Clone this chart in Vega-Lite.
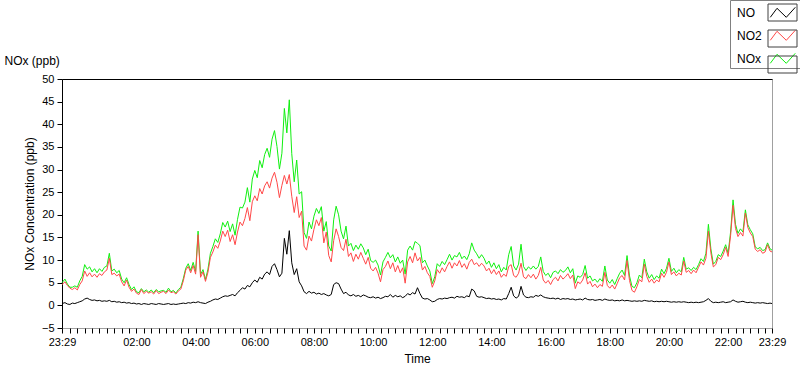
{
 "$schema": "https://vega.github.io/schema/vega-lite/v6.json",
 "width": 710, "height": 249,
 "autosize": "none",
 "padding": {"left": 62, "top": 79, "right": 28, "bottom": 41},
 "background": "white",
 "config": {
  "font": "Liberation Sans",
  "view": {"stroke": "#a0a0a0"},
  "axis": {"grid": false, "labelColor": "#000", "titleColor": "#000", "tickColor": "#000", "domainColor": "#000", "labelFontSize": 11, "titleFontSize": 12, "titleFontWeight": "normal"}
 },
 "data": {"format": {"parse": {"t": "date:'%d %H:%M'"}}, "values": [
{"t":"1 23:29","NO":0.4,"NO2":4.6,"NOx":5.0},{"t":"1 23:35","NO":0.6,"NO2":5.2,"NOx":5.8},{"t":"1 23:40","NO":0.3,"NO2":4.4,"NOx":4.7},{"t":"1 23:45","NO":0.2,"NO2":3.8,"NOx":4.0},{"t":"1 23:50","NO":0.5,"NO2":3.5,"NOx":4.0},{"t":"1 23:55","NO":0.4,"NO2":3.9,"NOx":4.3},
{"t":"2 00:00","NO":0.6,"NO2":3.4,"NOx":4.0},{"t":"2 00:05","NO":0.8,"NO2":4.6,"NOx":5.4},{"t":"2 00:10","NO":1.0,"NO2":5.4,"NOx":6.4},{"t":"2 00:15","NO":1.4,"NO2":7.6,"NOx":9.0},{"t":"2 00:20","NO":1.6,"NO2":6.4,"NOx":8.0},{"t":"2 00:25","NO":1.3,"NO2":7.2,"NOx":8.5},{"t":"2 00:30","NO":1.1,"NO2":6.3,"NOx":7.4},{"t":"2 00:35","NO":1.2,"NO2":6.9,"NOx":8.1},{"t":"2 00:40","NO":1.0,"NO2":6.2,"NOx":7.2},{"t":"2 00:45","NO":1.1,"NO2":7.0,"NOx":8.1},{"t":"2 00:50","NO":0.9,"NO2":6.6,"NOx":7.5},{"t":"2 00:55","NO":1.0,"NO2":7.4,"NOx":8.4},
{"t":"2 01:00","NO":0.9,"NO2":7.8,"NOx":8.7},{"t":"2 01:05","NO":1.1,"NO2":10.4,"NOx":11.5},{"t":"2 01:10","NO":0.8,"NO2":6.8,"NOx":7.6},{"t":"2 01:15","NO":0.9,"NO2":7.1,"NOx":8.0},{"t":"2 01:20","NO":0.7,"NO2":6.5,"NOx":7.2},{"t":"2 01:25","NO":0.8,"NO2":6.9,"NOx":7.7},{"t":"2 01:30","NO":0.6,"NO2":5.2,"NOx":5.8},{"t":"2 01:35","NO":0.7,"NO2":4.3,"NOx":5.0},{"t":"2 01:40","NO":0.5,"NO2":5.6,"NOx":6.1},{"t":"2 01:45","NO":0.6,"NO2":4.0,"NOx":4.6},{"t":"2 01:50","NO":0.4,"NO2":3.1,"NOx":3.5},{"t":"2 01:55","NO":0.5,"NO2":3.6,"NOx":4.1},
{"t":"2 02:00","NO":0.3,"NO2":2.7,"NOx":3.0},{"t":"2 02:05","NO":0.4,"NO2":2.4,"NOx":2.8},{"t":"2 02:10","NO":0.2,"NO2":3.5,"NOx":3.7},{"t":"2 02:15","NO":0.4,"NO2":2.6,"NOx":3.0},{"t":"2 02:20","NO":0.3,"NO2":3.1,"NOx":3.4},{"t":"2 02:25","NO":0.2,"NO2":2.7,"NOx":2.9},{"t":"2 02:30","NO":0.4,"NO2":3.0,"NOx":3.4},{"t":"2 02:35","NO":0.3,"NO2":2.5,"NOx":2.8},{"t":"2 02:40","NO":0.2,"NO2":3.3,"NOx":3.5},{"t":"2 02:45","NO":0.4,"NO2":2.6,"NOx":3.0},{"t":"2 02:50","NO":0.3,"NO2":2.9,"NOx":3.2},{"t":"2 02:55","NO":0.2,"NO2":3.1,"NOx":3.3},
{"t":"2 03:00","NO":0.3,"NO2":2.6,"NOx":2.9},{"t":"2 03:05","NO":0.4,"NO2":3.4,"NOx":3.8},{"t":"2 03:10","NO":0.2,"NO2":2.8,"NOx":3.0},{"t":"2 03:15","NO":0.3,"NO2":3.0,"NOx":3.3},{"t":"2 03:20","NO":0.2,"NO2":2.5,"NOx":2.7},{"t":"2 03:25","NO":0.3,"NO2":3.2,"NOx":3.5},{"t":"2 03:30","NO":0.4,"NO2":3.6,"NOx":4.0},{"t":"2 03:35","NO":0.5,"NO2":5.4,"NOx":5.9},{"t":"2 03:40","NO":0.4,"NO2":7.8,"NOx":8.2},{"t":"2 03:45","NO":0.6,"NO2":8.6,"NOx":9.2},{"t":"2 03:50","NO":0.5,"NO2":7.2,"NOx":7.7},{"t":"2 03:55","NO":0.7,"NO2":8.8,"NOx":9.5},
{"t":"2 04:00","NO":0.6,"NO2":6.9,"NOx":7.5},{"t":"2 04:05","NO":0.8,"NO2":15.6,"NOx":16.4},{"t":"2 04:10","NO":0.6,"NO2":6.2,"NOx":6.8},{"t":"2 04:15","NO":0.5,"NO2":7.4,"NOx":7.9},{"t":"2 04:20","NO":0.4,"NO2":5.3,"NOx":5.7},{"t":"2 04:25","NO":0.7,"NO2":7.3,"NOx":8.0},{"t":"2 04:30","NO":0.9,"NO2":10.6,"NOx":11.5},{"t":"2 04:35","NO":1.2,"NO2":11.8,"NOx":13.0},{"t":"2 04:40","NO":1.4,"NO2":13.3,"NOx":14.7},{"t":"2 04:45","NO":1.3,"NO2":12.6,"NOx":13.9},{"t":"2 04:50","NO":1.6,"NO2":14.2,"NOx":15.8},{"t":"2 04:55","NO":1.9,"NO2":16.4,"NOx":18.3},
{"t":"2 05:00","NO":2.1,"NO2":15.2,"NOx":17.3},{"t":"2 05:05","NO":2.0,"NO2":16.6,"NOx":18.6},{"t":"2 05:10","NO":2.2,"NO2":14.1,"NOx":16.3},{"t":"2 05:15","NO":2.4,"NO2":15.6,"NOx":18.0},{"t":"2 05:20","NO":2.1,"NO2":13.4,"NOx":15.5},{"t":"2 05:25","NO":2.8,"NO2":16.2,"NOx":19.0},{"t":"2 05:30","NO":3.3,"NO2":18.4,"NOx":21.7},{"t":"2 05:35","NO":3.9,"NO2":17.6,"NOx":21.5},{"t":"2 05:40","NO":3.6,"NO2":19.2,"NOx":22.8},{"t":"2 05:45","NO":4.4,"NO2":21.6,"NOx":26.0},{"t":"2 05:50","NO":4.1,"NO2":18.7,"NOx":22.8},{"t":"2 05:55","NO":5.0,"NO2":22.9,"NOx":27.9},
{"t":"2 06:00","NO":5.6,"NO2":24.2,"NOx":29.8},{"t":"2 06:05","NO":5.1,"NO2":23.1,"NOx":28.2},{"t":"2 06:10","NO":6.2,"NO2":25.8,"NOx":32.0},{"t":"2 06:15","NO":5.8,"NO2":24.6,"NOx":30.4},{"t":"2 06:20","NO":6.9,"NO2":26.4,"NOx":33.3},{"t":"2 06:25","NO":7.4,"NO2":27.3,"NOx":34.7},{"t":"2 06:30","NO":6.8,"NO2":25.9,"NOx":32.7},{"t":"2 06:35","NO":8.6,"NO2":28.1,"NOx":36.7},{"t":"2 06:40","NO":9.2,"NO2":29.4,"NOx":38.6},{"t":"2 06:45","NO":7.9,"NO2":27.2,"NOx":35.1},{"t":"2 06:50","NO":6.3,"NO2":23.8,"NOx":30.1},{"t":"2 06:55","NO":7.1,"NO2":26.5,"NOx":33.6},
{"t":"2 07:00","NO":14.8,"NO2":28.7,"NOx":43.5},{"t":"2 07:05","NO":11.3,"NO2":26.8,"NOx":38.1},{"t":"2 07:10","NO":16.5,"NO2":28.9,"NOx":45.4},{"t":"2 07:15","NO":9.4,"NO2":24.1,"NOx":33.5},{"t":"2 07:20","NO":6.8,"NO2":20.5,"NOx":27.3},{"t":"2 07:25","NO":8.1,"NO2":24.0,"NOx":32.1},{"t":"2 07:30","NO":5.2,"NO2":19.4,"NOx":24.6},{"t":"2 07:35","NO":4.3,"NO2":20.8,"NOx":25.1},{"t":"2 07:40","NO":3.0,"NO2":13.1,"NOx":16.1},{"t":"2 07:45","NO":2.6,"NO2":12.2,"NOx":14.8},{"t":"2 07:50","NO":3.1,"NO2":15.3,"NOx":18.4},{"t":"2 07:55","NO":2.7,"NO2":14.2,"NOx":16.9},
{"t":"2 08:00","NO":2.9,"NO2":16.8,"NOx":19.7},{"t":"2 08:05","NO":2.5,"NO2":18.9,"NOx":21.4},{"t":"2 08:10","NO":2.7,"NO2":17.6,"NOx":20.3},{"t":"2 08:15","NO":2.4,"NO2":19.4,"NOx":21.8},{"t":"2 08:20","NO":2.6,"NO2":13.8,"NOx":16.4},{"t":"2 08:25","NO":2.3,"NO2":16.2,"NOx":18.5},{"t":"2 08:30","NO":2.1,"NO2":11.0,"NOx":13.1},{"t":"2 08:35","NO":2.4,"NO2":9.6,"NOx":12.0},{"t":"2 08:40","NO":4.6,"NO2":14.3,"NOx":18.9},{"t":"2 08:45","NO":5.0,"NO2":16.9,"NOx":21.9},{"t":"2 08:50","NO":4.8,"NO2":15.2,"NOx":20.0},{"t":"2 08:55","NO":3.6,"NO2":12.8,"NOx":16.4},
{"t":"2 09:00","NO":2.6,"NO2":12.1,"NOx":14.7},{"t":"2 09:05","NO":2.9,"NO2":14.6,"NOx":17.5},{"t":"2 09:10","NO":2.3,"NO2":10.8,"NOx":13.1},{"t":"2 09:15","NO":2.1,"NO2":11.6,"NOx":13.7},{"t":"2 09:20","NO":2.4,"NO2":9.7,"NOx":12.1},{"t":"2 09:25","NO":2.0,"NO2":11.3,"NOx":13.3},{"t":"2 09:30","NO":2.2,"NO2":10.2,"NOx":12.4},{"t":"2 09:35","NO":1.9,"NO2":11.7,"NOx":13.6},{"t":"2 09:40","NO":2.3,"NO2":10.4,"NOx":12.7},{"t":"2 09:45","NO":2.1,"NO2":9.1,"NOx":11.2},{"t":"2 09:50","NO":1.8,"NO2":10.6,"NOx":12.4},{"t":"2 09:55","NO":1.7,"NO2":8.2,"NOx":9.9},
{"t":"2 10:00","NO":1.9,"NO2":7.6,"NOx":9.5},{"t":"2 10:05","NO":1.6,"NO2":8.4,"NOx":10.0},{"t":"2 10:10","NO":1.8,"NO2":7.1,"NOx":8.9},{"t":"2 10:15","NO":1.5,"NO2":5.2,"NOx":6.7},{"t":"2 10:20","NO":1.7,"NO2":7.9,"NOx":9.6},{"t":"2 10:25","NO":2.0,"NO2":8.6,"NOx":10.6},{"t":"2 10:30","NO":1.9,"NO2":9.8,"NOx":11.7},{"t":"2 10:35","NO":2.4,"NO2":8.1,"NOx":10.5},{"t":"2 10:40","NO":1.8,"NO2":9.4,"NOx":11.2},{"t":"2 10:45","NO":2.2,"NO2":7.4,"NOx":9.6},{"t":"2 10:50","NO":1.9,"NO2":8.8,"NOx":10.7},{"t":"2 10:55","NO":2.1,"NO2":7.2,"NOx":9.3},
{"t":"2 11:00","NO":1.7,"NO2":8.3,"NOx":10.0},{"t":"2 11:05","NO":2.0,"NO2":4.9,"NOx":6.9},{"t":"2 11:10","NO":2.6,"NO2":9.6,"NOx":12.2},{"t":"2 11:15","NO":2.3,"NO2":10.8,"NOx":13.1},{"t":"2 11:20","NO":2.8,"NO2":9.4,"NOx":12.2},{"t":"2 11:25","NO":2.5,"NO2":11.6,"NOx":14.1},{"t":"2 11:30","NO":3.9,"NO2":9.8,"NOx":13.7},{"t":"2 11:35","NO":2.6,"NO2":10.6,"NOx":13.2},{"t":"2 11:40","NO":1.6,"NO2":7.8,"NOx":9.4},{"t":"2 11:45","NO":1.4,"NO2":8.6,"NOx":10.0},{"t":"2 11:50","NO":1.5,"NO2":7.2,"NOx":8.7},{"t":"2 11:55","NO":1.2,"NO2":6.4,"NOx":7.6},
{"t":"2 12:00","NO":0.8,"NO2":4.0,"NOx":4.8},{"t":"2 12:05","NO":0.9,"NO2":5.4,"NOx":6.3},{"t":"2 12:10","NO":1.3,"NO2":7.9,"NOx":9.2},{"t":"2 12:15","NO":1.5,"NO2":7.1,"NOx":8.6},{"t":"2 12:20","NO":1.4,"NO2":8.3,"NOx":9.7},{"t":"2 12:25","NO":1.6,"NO2":7.4,"NOx":9.0},{"t":"2 12:30","NO":1.5,"NO2":8.6,"NOx":10.1},{"t":"2 12:35","NO":1.7,"NO2":9.6,"NOx":11.3},{"t":"2 12:40","NO":1.8,"NO2":8.2,"NOx":10.0},{"t":"2 12:45","NO":1.6,"NO2":9.4,"NOx":11.0},{"t":"2 12:50","NO":2.0,"NO2":8.7,"NOx":10.7},{"t":"2 12:55","NO":1.8,"NO2":9.9,"NOx":11.7},
{"t":"2 13:00","NO":1.9,"NO2":8.4,"NOx":10.3},{"t":"2 13:05","NO":1.7,"NO2":9.2,"NOx":10.9},{"t":"2 13:10","NO":2.1,"NO2":8.0,"NOx":10.1},{"t":"2 13:15","NO":1.9,"NO2":9.5,"NOx":11.4},{"t":"2 13:20","NO":3.6,"NO2":10.2,"NOx":13.8},{"t":"2 13:25","NO":3.2,"NO2":9.0,"NOx":12.2},{"t":"2 13:30","NO":2.0,"NO2":9.4,"NOx":11.4},{"t":"2 13:35","NO":1.8,"NO2":8.6,"NOx":10.4},{"t":"2 13:40","NO":1.9,"NO2":9.3,"NOx":11.2},{"t":"2 13:45","NO":1.7,"NO2":8.7,"NOx":10.4},{"t":"2 13:50","NO":1.5,"NO2":7.6,"NOx":9.1},{"t":"2 13:55","NO":1.6,"NO2":8.2,"NOx":9.8},
{"t":"2 14:00","NO":1.4,"NO2":7.0,"NOx":8.4},{"t":"2 14:05","NO":1.5,"NO2":7.9,"NOx":9.4},{"t":"2 14:10","NO":1.3,"NO2":6.8,"NOx":8.1},{"t":"2 14:15","NO":1.4,"NO2":7.6,"NOx":9.0},{"t":"2 14:20","NO":1.2,"NO2":6.2,"NOx":7.4},{"t":"2 14:25","NO":1.5,"NO2":6.9,"NOx":8.4},{"t":"2 14:30","NO":1.4,"NO2":6.4,"NOx":7.8},{"t":"2 14:35","NO":2.6,"NO2":8.6,"NOx":11.2},{"t":"2 14:40","NO":4.0,"NO2":9.0,"NOx":13.0},{"t":"2 14:45","NO":2.1,"NO2":6.6,"NOx":8.7},{"t":"2 14:50","NO":1.6,"NO2":6.2,"NOx":7.8},{"t":"2 14:55","NO":2.0,"NO2":7.1,"NOx":9.1},
{"t":"2 15:00","NO":4.2,"NO2":9.3,"NOx":13.5},{"t":"2 15:05","NO":2.3,"NO2":6.3,"NOx":8.6},{"t":"2 15:10","NO":1.8,"NO2":5.9,"NOx":7.7},{"t":"2 15:15","NO":1.7,"NO2":6.8,"NOx":8.5},{"t":"2 15:20","NO":1.9,"NO2":6.1,"NOx":8.0},{"t":"2 15:25","NO":1.8,"NO2":6.9,"NOx":8.7},{"t":"2 15:30","NO":2.2,"NO2":5.8,"NOx":8.0},{"t":"2 15:35","NO":2.0,"NO2":6.6,"NOx":8.6},{"t":"2 15:40","NO":2.3,"NO2":8.4,"NOx":10.7},{"t":"2 15:45","NO":1.9,"NO2":5.6,"NOx":7.5},{"t":"2 15:50","NO":1.7,"NO2":4.9,"NOx":6.6},{"t":"2 15:55","NO":1.6,"NO2":5.5,"NOx":7.1},
{"t":"2 16:00","NO":1.5,"NO2":4.6,"NOx":6.1},{"t":"2 16:05","NO":1.6,"NO2":5.7,"NOx":7.3},{"t":"2 16:10","NO":1.4,"NO2":6.2,"NOx":7.6},{"t":"2 16:15","NO":1.6,"NO2":5.4,"NOx":7.0},{"t":"2 16:20","NO":1.3,"NO2":6.6,"NOx":7.9},{"t":"2 16:25","NO":1.5,"NO2":5.8,"NOx":7.3},{"t":"2 16:30","NO":1.4,"NO2":6.3,"NOx":7.7},{"t":"2 16:35","NO":1.5,"NO2":7.0,"NOx":8.5},{"t":"2 16:40","NO":1.3,"NO2":5.9,"NOx":7.2},{"t":"2 16:45","NO":1.4,"NO2":6.7,"NOx":8.1},{"t":"2 16:50","NO":1.2,"NO2":3.7,"NOx":4.9},{"t":"2 16:55","NO":1.3,"NO2":5.2,"NOx":6.5},
{"t":"2 17:00","NO":1.4,"NO2":4.8,"NOx":6.2},{"t":"2 17:05","NO":1.2,"NO2":5.6,"NOx":6.8},{"t":"2 17:10","NO":1.6,"NO2":7.2,"NOx":8.8},{"t":"2 17:15","NO":1.3,"NO2":4.7,"NOx":6.0},{"t":"2 17:20","NO":1.2,"NO2":5.3,"NOx":6.5},{"t":"2 17:25","NO":1.3,"NO2":4.1,"NOx":5.4},{"t":"2 17:30","NO":1.1,"NO2":4.7,"NOx":5.8},{"t":"2 17:35","NO":1.2,"NO2":3.9,"NOx":5.1},{"t":"2 17:40","NO":1.3,"NO2":4.6,"NOx":5.9},{"t":"2 17:45","NO":1.1,"NO2":4.2,"NOx":5.3},{"t":"2 17:50","NO":1.4,"NO2":7.3,"NOx":8.7},{"t":"2 17:55","NO":1.2,"NO2":4.4,"NOx":5.6},
{"t":"2 18:00","NO":1.1,"NO2":3.8,"NOx":4.9},{"t":"2 18:05","NO":1.2,"NO2":4.5,"NOx":5.7},{"t":"2 18:10","NO":1.0,"NO2":3.6,"NOx":4.6},{"t":"2 18:15","NO":1.1,"NO2":4.8,"NOx":5.9},{"t":"2 18:20","NO":1.0,"NO2":6.1,"NOx":7.1},{"t":"2 18:25","NO":1.2,"NO2":6.6,"NOx":7.8},{"t":"2 18:30","NO":1.0,"NO2":5.6,"NOx":6.6},{"t":"2 18:35","NO":1.1,"NO2":9.9,"NOx":11.0},{"t":"2 18:40","NO":1.0,"NO2":5.5,"NOx":6.5},{"t":"2 18:45","NO":0.9,"NO2":3.3,"NOx":4.2},{"t":"2 18:50","NO":1.0,"NO2":2.9,"NOx":3.9},{"t":"2 18:55","NO":0.9,"NO2":4.1,"NOx":5.0},
{"t":"2 19:00","NO":1.0,"NO2":5.7,"NOx":6.7},{"t":"2 19:05","NO":0.9,"NO2":5.2,"NOx":6.1},{"t":"2 19:10","NO":1.1,"NO2":9.1,"NOx":10.2},{"t":"2 19:15","NO":1.0,"NO2":6.4,"NOx":7.4},{"t":"2 19:20","NO":0.9,"NO2":5.1,"NOx":6.0},{"t":"2 19:25","NO":1.0,"NO2":5.8,"NOx":6.8},{"t":"2 19:30","NO":0.8,"NO2":4.9,"NOx":5.7},{"t":"2 19:35","NO":0.9,"NO2":5.6,"NOx":6.5},{"t":"2 19:40","NO":0.8,"NO2":5.2,"NOx":6.0},{"t":"2 19:45","NO":0.9,"NO2":7.1,"NOx":8.0},{"t":"2 19:50","NO":0.8,"NO2":6.2,"NOx":7.0},{"t":"2 19:55","NO":0.9,"NO2":7.3,"NOx":8.2},
{"t":"2 20:00","NO":0.8,"NO2":9.6,"NOx":10.4},{"t":"2 20:05","NO":0.7,"NO2":6.8,"NOx":7.5},{"t":"2 20:10","NO":0.8,"NO2":7.4,"NOx":8.2},{"t":"2 20:15","NO":0.7,"NO2":6.5,"NOx":7.2},{"t":"2 20:20","NO":0.8,"NO2":7.1,"NOx":7.9},{"t":"2 20:25","NO":0.7,"NO2":6.7,"NOx":7.4},{"t":"2 20:30","NO":0.8,"NO2":9.8,"NOx":10.6},{"t":"2 20:35","NO":0.7,"NO2":7.3,"NOx":8.0},{"t":"2 20:40","NO":0.6,"NO2":7.7,"NOx":8.3},{"t":"2 20:45","NO":0.7,"NO2":7.0,"NOx":7.7},{"t":"2 20:50","NO":0.6,"NO2":7.8,"NOx":8.4},{"t":"2 20:55","NO":0.7,"NO2":7.2,"NOx":7.9},
{"t":"2 21:00","NO":0.6,"NO2":8.4,"NOx":9.0},{"t":"2 21:05","NO":0.7,"NO2":9.6,"NOx":10.3},{"t":"2 21:10","NO":0.8,"NO2":8.9,"NOx":9.7},{"t":"2 21:15","NO":1.1,"NO2":10.4,"NOx":11.5},{"t":"2 21:20","NO":1.5,"NO2":16.4,"NOx":17.9},{"t":"2 21:25","NO":0.9,"NO2":11.6,"NOx":12.5},{"t":"2 21:30","NO":0.6,"NO2":8.5,"NOx":9.1},{"t":"2 21:35","NO":0.7,"NO2":9.0,"NOx":9.7},{"t":"2 21:40","NO":0.6,"NO2":10.6,"NOx":11.2},{"t":"2 21:45","NO":0.7,"NO2":10.1,"NOx":10.8},{"t":"2 21:50","NO":0.8,"NO2":11.2,"NOx":12.0},{"t":"2 21:55","NO":0.6,"NO2":12.8,"NOx":13.4},
{"t":"2 22:00","NO":0.7,"NO2":10.8,"NOx":11.5},{"t":"2 22:05","NO":0.8,"NO2":15.4,"NOx":16.2},{"t":"2 22:10","NO":1.2,"NO2":22.1,"NOx":23.3},{"t":"2 22:15","NO":0.9,"NO2":17.0,"NOx":17.9},{"t":"2 22:20","NO":0.7,"NO2":15.2,"NOx":15.9},{"t":"2 22:25","NO":0.8,"NO2":16.1,"NOx":16.9},{"t":"2 22:30","NO":0.9,"NO2":15.3,"NOx":16.2},{"t":"2 22:35","NO":0.7,"NO2":20.4,"NOx":21.1},{"t":"2 22:40","NO":0.6,"NO2":17.2,"NOx":17.8},{"t":"2 22:45","NO":0.7,"NO2":16.0,"NOx":16.7},{"t":"2 22:50","NO":0.6,"NO2":15.2,"NOx":15.8},{"t":"2 22:55","NO":0.5,"NO2":12.4,"NOx":12.9},
{"t":"2 23:00","NO":0.6,"NO2":11.9,"NOx":12.5},{"t":"2 23:05","NO":0.5,"NO2":12.3,"NOx":12.8},{"t":"2 23:10","NO":0.6,"NO2":11.5,"NOx":12.1},{"t":"2 23:15","NO":0.5,"NO2":11.8,"NOx":12.3},{"t":"2 23:20","NO":0.4,"NO2":13.4,"NOx":13.8},{"t":"2 23:25","NO":0.5,"NO2":12.0,"NOx":12.5},{"t":"2 23:29","NO":0.4,"NO2":11.8,"NOx":12.2}
 ]},
 "transform": [{"fold": ["NOx", "NO2", "NO"], "as": ["s", "v"]}],
 "encoding": {
  "y": {"field": "v", "type": "quantitative", "scale": {"domain": [-5, 50], "nice": false, "zero": false},
   "axis": {"orient": "left", "values": [-5, 0, 5, 10, 15, 20, 25, 30, 35, 40, 45, 50], "ticks": true, "labels": true, "domain": true, "tickSize": 5, "labelPadding": 3, "title": "NOx Concentration (ppb)", "titlePadding": 5}}
 },
 "resolve": {"axis": {"x": "independent"}},
 "layer": [
  {
   "transform": [{"filter": "datum.s == 'NOx'"}],
   "mark": {"type": "line", "strokeWidth": 1},
   "encoding": {
    "x": {"field": "t", "type": "temporal", "axis": null},
    "color": {"field": "s", "type": "nominal", "scale": {"domain": ["NO", "NO2", "NOx"], "range": ["#000000", "#ff4848", "#10f010"]},
     "legend": {"orient": "none", "legendX": 668, "legendY": -79, "title": null, "symbolType": "M-1.22,0.48L-0.55,-0.42L0.38,0.48L1.28,-0.52", "symbolSize": 400, "symbolStrokeWidth": 1, "labelOffset": -56, "symbolOffset": 40, "rowPadding": 5, "padding": 2, "labelFontSize": 12, "labelColor": "#000", "strokeColor": "#808080"}}
   }
  },
  {
   "transform": [{"filter": "datum.s == 'NO2'"}],
   "mark": {"type": "line", "strokeWidth": 1},
   "encoding": {
    "x": {"field": "t", "type": "temporal",
     "axis": {"orient": "bottom", "values": [
{"year":1900,"month":1,"date":1,"hours":23,"minutes":29},{"year":1900,"month":1,"date":1,"hours":23,"minutes":45},
{"year":1900,"month":1,"date":2,"hours":0,"minutes":0},{"year":1900,"month":1,"date":2,"hours":0,"minutes":15},{"year":1900,"month":1,"date":2,"hours":0,"minutes":30},{"year":1900,"month":1,"date":2,"hours":0,"minutes":45},
{"year":1900,"month":1,"date":2,"hours":1,"minutes":0},{"year":1900,"month":1,"date":2,"hours":1,"minutes":15},{"year":1900,"month":1,"date":2,"hours":1,"minutes":30},{"year":1900,"month":1,"date":2,"hours":1,"minutes":45},
{"year":1900,"month":1,"date":2,"hours":2,"minutes":0},{"year":1900,"month":1,"date":2,"hours":2,"minutes":15},{"year":1900,"month":1,"date":2,"hours":2,"minutes":30},{"year":1900,"month":1,"date":2,"hours":2,"minutes":45},
{"year":1900,"month":1,"date":2,"hours":3,"minutes":0},{"year":1900,"month":1,"date":2,"hours":3,"minutes":15},{"year":1900,"month":1,"date":2,"hours":3,"minutes":30},{"year":1900,"month":1,"date":2,"hours":3,"minutes":45},
{"year":1900,"month":1,"date":2,"hours":4,"minutes":0},{"year":1900,"month":1,"date":2,"hours":4,"minutes":15},{"year":1900,"month":1,"date":2,"hours":4,"minutes":30},{"year":1900,"month":1,"date":2,"hours":4,"minutes":45},
{"year":1900,"month":1,"date":2,"hours":5,"minutes":0},{"year":1900,"month":1,"date":2,"hours":5,"minutes":15},{"year":1900,"month":1,"date":2,"hours":5,"minutes":30},{"year":1900,"month":1,"date":2,"hours":5,"minutes":45},
{"year":1900,"month":1,"date":2,"hours":6,"minutes":0},{"year":1900,"month":1,"date":2,"hours":6,"minutes":15},{"year":1900,"month":1,"date":2,"hours":6,"minutes":30},{"year":1900,"month":1,"date":2,"hours":6,"minutes":45},
{"year":1900,"month":1,"date":2,"hours":7,"minutes":0},{"year":1900,"month":1,"date":2,"hours":7,"minutes":15},{"year":1900,"month":1,"date":2,"hours":7,"minutes":30},{"year":1900,"month":1,"date":2,"hours":7,"minutes":45},
{"year":1900,"month":1,"date":2,"hours":8,"minutes":0},{"year":1900,"month":1,"date":2,"hours":8,"minutes":15},{"year":1900,"month":1,"date":2,"hours":8,"minutes":30},{"year":1900,"month":1,"date":2,"hours":8,"minutes":45},
{"year":1900,"month":1,"date":2,"hours":9,"minutes":0},{"year":1900,"month":1,"date":2,"hours":9,"minutes":15},{"year":1900,"month":1,"date":2,"hours":9,"minutes":30},{"year":1900,"month":1,"date":2,"hours":9,"minutes":45},
{"year":1900,"month":1,"date":2,"hours":10,"minutes":0},{"year":1900,"month":1,"date":2,"hours":10,"minutes":15},{"year":1900,"month":1,"date":2,"hours":10,"minutes":30},{"year":1900,"month":1,"date":2,"hours":10,"minutes":45},
{"year":1900,"month":1,"date":2,"hours":11,"minutes":0},{"year":1900,"month":1,"date":2,"hours":11,"minutes":15},{"year":1900,"month":1,"date":2,"hours":11,"minutes":30},{"year":1900,"month":1,"date":2,"hours":11,"minutes":45},
{"year":1900,"month":1,"date":2,"hours":12,"minutes":0},{"year":1900,"month":1,"date":2,"hours":12,"minutes":15},{"year":1900,"month":1,"date":2,"hours":12,"minutes":30},{"year":1900,"month":1,"date":2,"hours":12,"minutes":45},
{"year":1900,"month":1,"date":2,"hours":13,"minutes":0},{"year":1900,"month":1,"date":2,"hours":13,"minutes":15},{"year":1900,"month":1,"date":2,"hours":13,"minutes":30},{"year":1900,"month":1,"date":2,"hours":13,"minutes":45},
{"year":1900,"month":1,"date":2,"hours":14,"minutes":0},{"year":1900,"month":1,"date":2,"hours":14,"minutes":15},{"year":1900,"month":1,"date":2,"hours":14,"minutes":30},{"year":1900,"month":1,"date":2,"hours":14,"minutes":45},
{"year":1900,"month":1,"date":2,"hours":15,"minutes":0},{"year":1900,"month":1,"date":2,"hours":15,"minutes":15},{"year":1900,"month":1,"date":2,"hours":15,"minutes":30},{"year":1900,"month":1,"date":2,"hours":15,"minutes":45},
{"year":1900,"month":1,"date":2,"hours":16,"minutes":0},{"year":1900,"month":1,"date":2,"hours":16,"minutes":15},{"year":1900,"month":1,"date":2,"hours":16,"minutes":30},{"year":1900,"month":1,"date":2,"hours":16,"minutes":45},
{"year":1900,"month":1,"date":2,"hours":17,"minutes":0},{"year":1900,"month":1,"date":2,"hours":17,"minutes":15},{"year":1900,"month":1,"date":2,"hours":17,"minutes":30},{"year":1900,"month":1,"date":2,"hours":17,"minutes":45},
{"year":1900,"month":1,"date":2,"hours":18,"minutes":0},{"year":1900,"month":1,"date":2,"hours":18,"minutes":15},{"year":1900,"month":1,"date":2,"hours":18,"minutes":30},{"year":1900,"month":1,"date":2,"hours":18,"minutes":45},
{"year":1900,"month":1,"date":2,"hours":19,"minutes":0},{"year":1900,"month":1,"date":2,"hours":19,"minutes":15},{"year":1900,"month":1,"date":2,"hours":19,"minutes":30},{"year":1900,"month":1,"date":2,"hours":19,"minutes":45},
{"year":1900,"month":1,"date":2,"hours":20,"minutes":0},{"year":1900,"month":1,"date":2,"hours":20,"minutes":15},{"year":1900,"month":1,"date":2,"hours":20,"minutes":30},{"year":1900,"month":1,"date":2,"hours":20,"minutes":45},
{"year":1900,"month":1,"date":2,"hours":21,"minutes":0},{"year":1900,"month":1,"date":2,"hours":21,"minutes":15},{"year":1900,"month":1,"date":2,"hours":21,"minutes":30},{"year":1900,"month":1,"date":2,"hours":21,"minutes":45},
{"year":1900,"month":1,"date":2,"hours":22,"minutes":0},{"year":1900,"month":1,"date":2,"hours":22,"minutes":15},{"year":1900,"month":1,"date":2,"hours":22,"minutes":30},{"year":1900,"month":1,"date":2,"hours":22,"minutes":45},
{"year":1900,"month":1,"date":2,"hours":23,"minutes":0},{"year":1900,"month":1,"date":2,"hours":23,"minutes":15},{"year":1900,"month":1,"date":2,"hours":23,"minutes":29}],
      "format": "%H:%M", "labelExpr": "(minutes(datum.value) == 29 || (minutes(datum.value) == 0 && hours(datum.value) % 2 == 0 && hours(datum.value) != 0)) ? datum.label : ''",
      "tickSize": 5, "labelPadding": 3, "labelFlush": false, "labelOverlap": false, "domain": false, "title": "Time", "titlePadding": 6}},
    "color": {"field": "s", "type": "nominal", "legend": null}
   }
  },
  {
   "transform": [{"filter": "datum.s == 'NO'"}],
   "mark": {"type": "line", "strokeWidth": 1},
   "encoding": {
    "x": {"field": "t", "type": "temporal",
     "axis": {"orient": "top", "ticks": false, "labels": false, "domain": true, "title": "NOx (ppb)", "titleX": -58, "titleY": -15, "titleAlign": "left", "titleBaseline": "alphabetic", "titleAnchor": "start"}},
    "color": {"field": "s", "type": "nominal", "legend": null}
   }
  },
  {
   "mark": {"type": "point", "opacity": 0, "color": "#404040", "size": 400, "strokeWidth": 1},
   "encoding": {
    "x": {"field": "t", "type": "temporal", "axis": null},
    "shape": {"field": "s", "type": "nominal", "scale": {"range": ["M-1.45,-0.85H1.45V0.85H-1.45Z", "M-1.45,-0.85H1.45V0.85H-1.45Z", "M-1.45,-0.85H1.45V0.85H-1.45Z"]},
     "legend": {"orient": "none", "legendX": 668, "legendY": -79, "title": null, "symbolSize": 400, "symbolStrokeWidth": 1, "symbolStrokeColor": "#404040", "labelOffset": -56, "symbolOffset": 40, "rowPadding": 5, "padding": 2, "labelFontSize": 12, "labelOpacity": 0, "labelExpr": "''"}}
   }
  }
 ]
}
